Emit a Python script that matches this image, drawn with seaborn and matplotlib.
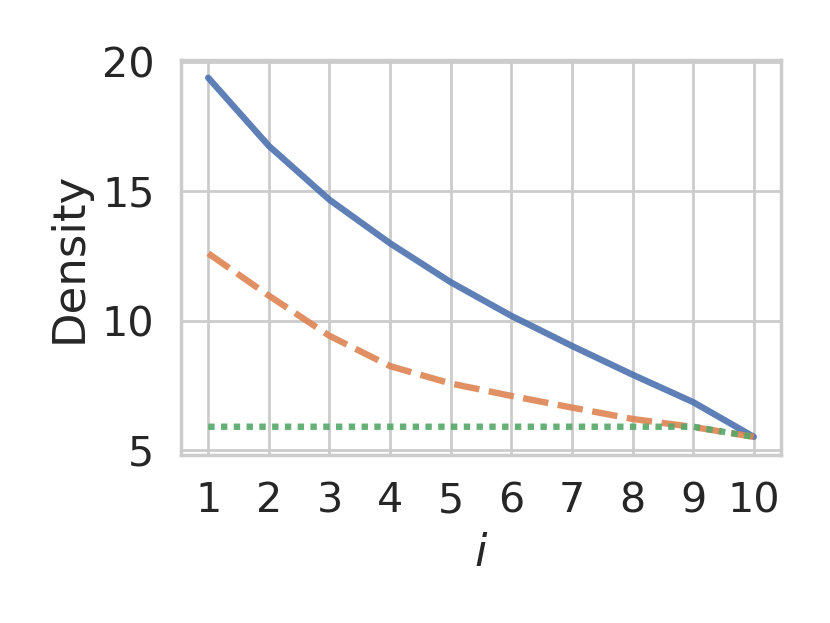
import matplotlib
matplotlib.use("Agg")
import matplotlib.pyplot as plt
import seaborn as sns
import pandas as pd

# values
steps = [1, 2, 3, 4, 5, 6, 7, 8, 9, 10]
series_a = [19.38, 16.75, 14.67, 12.99, 11.49, 10.19, 9.03, 7.92, 6.86, 5.52]
series_b = [12.6, 10.97, 9.42, 8.25, 7.58, 7.1, 6.65, 6.21, 5.9, 5.52]
series_c = [5.91, 5.91, 5.91, 5.91, 5.91, 5.91, 5.91, 5.91, 5.91, 5.52]
y_ticks = [5, 10, 15, 20]

df = pd.concat([
    pd.DataFrame({"i": steps, "Density": series_a, "series": "a"}),
    pd.DataFrame({"i": steps, "Density": series_b, "series": "b"}),
    pd.DataFrame({"i": steps, "Density": series_c, "series": "c"}),
])

sns.set_theme(style="whitegrid", context="notebook", font_scale=1.35)

fig, ax = plt.subplots(figsize=(4.15, 3.115), dpi=200)
# dash cycle: solid, long dash, dots
sns.lineplot(
    data=df, x="i", y="Density", hue="series", style="series",
    dashes=["", (4, 1.5), (1, 1)], linewidth=2.3, alpha=0.9,
    legend=False, ax=ax
)

ax.set_xticks(steps)
ax.set_yticks(y_ticks)
ax.set_xlabel("$i$")
ax.set_ylabel("Density")

fig.subplots_adjust(left=0.218, right=0.941, top=0.904, bottom=0.27)
fig.savefig("out.png", dpi=200)
